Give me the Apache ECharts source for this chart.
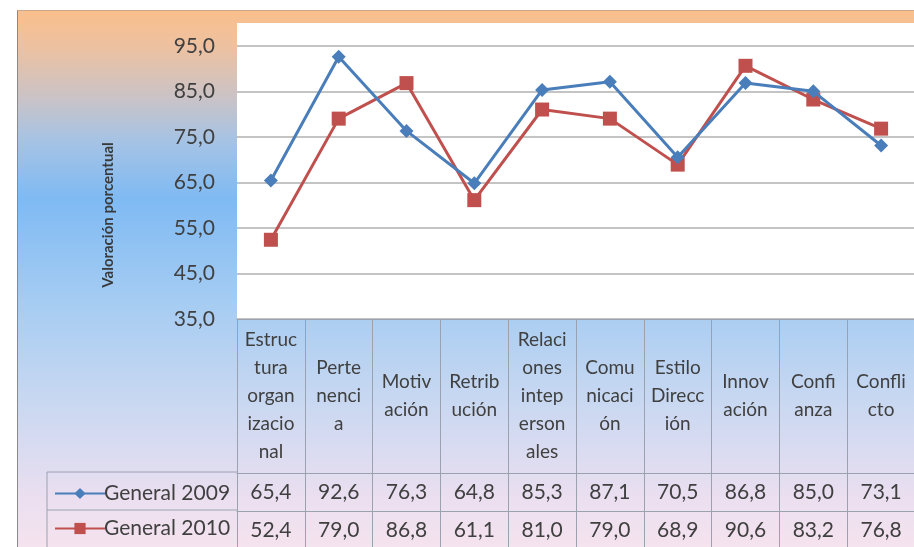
<!DOCTYPE html>
<html>
<head>
<meta charset="utf-8">
<title>Valoración porcentual</title>
<script src="https://cdn.jsdelivr.net/npm/echarts@6/dist/echarts.min.js"></script>
<style>
    html, body { margin: 0; padding: 0; background: #fff; overflow: hidden; }
    #chart { position: absolute; left: 17px; top: 10px; width: 897px; height: 537px;
             border-left: 1px solid #8a8a8a; border-top: 1px solid #c9a98c; }
</style>
</head>
<body>
<div id="chart"></div>
<script>
// categorias (ya cortadas como en la tabla original)
var categorias = [
    'Estruc\ntura\norgan\nizacio\nnal',
    'Perte\nnenci\na',
    'Motiv\nación',
    'Retrib\nución',
    'Relaci\nones\nintep\nerson\nales',
    'Comu\nnicaci\nón',
    'Estilo\nDirecc\nión',
    'Innov\nación',
    'Confi\nanza',
    'Confli\ncto'
];
var general2009 = [65.4, 92.6, 76.3, 64.8, 85.3, 87.1, 70.5, 86.8, 85.0, 73.1];
var general2010 = [52.4, 79.0, 86.8, 61.1, 81.0, 79.0, 68.9, 90.6, 83.2, 76.8];
var yMin = 35, yMax = 100, yStep = 10;

var fuente = 'Lato, "Open Sans", sans-serif';
var colorTexto = '#404040';
var colorTabla = '#9aa2b0';

// 65.4 -> "65,4"
function coma(v) {
    return v.toFixed(1).replace('.', ',');
}

// fila de valores de la tabla de datos (eje extra debajo del grafico)
function filaTabla(valores, desplazamiento) {
    return {
        type: 'category',
        data: categorias,
        position: 'bottom',
        offset: desplazamiento,
        axisLine: { show: true, lineStyle: { color: colorTabla, width: 1 } },
        axisTick: { show: false },
        splitLine: { show: false },
        axisLabel: {
            interval: 0,
            margin: 19,
            verticalAlign: 'middle',
            fontFamily: fuente,
            fontSize: 21,
            color: colorTexto,
            formatter: function (v, i) {
                return coma(valores[i]);
            }
        }
    };
}

var chart = echarts.init(document.getElementById('chart'));
var option = {
    animation: false,
    backgroundColor: new echarts.graphic.LinearGradient(0, 0, 0, 1, [
        { offset: 0, color: '#fabf8c' },
        { offset: 0.07, color: '#ecc1a2' },
        { offset: 0.16, color: '#cbc3c6' },
        { offset: 0.24, color: '#a6c3e4' },
        { offset: 0.35, color: '#7fbaf3' },
        { offset: 0.54, color: '#a5ccf2' },
        { offset: 0.73, color: '#c9d8f1' },
        { offset: 0.91, color: '#ebdff0' },
        { offset: 1, color: '#f5e3ee' }
    ]),
    grid: {
        left: 219,
        top: 12,
        right: -6,
        bottom: 229,
        show: true,
        backgroundColor: '#fff',
        borderWidth: 0
    },
    legend: {
        orient: 'vertical',
        left: 31,
        top: 467,
        itemWidth: 50,
        itemHeight: 14,
        itemGap: 14,
        textStyle: { fontFamily: fuente, fontSize: 21, color: colorTexto, padding: [0, 0, 0, -6] },
        data: ['General 2009', 'General 2010']
    },
    xAxis: [
        {
            type: 'category',
            data: categorias,
            boundaryGap: true,
            axisLine: { show: true, lineStyle: { color: colorTabla, width: 1 } },
            axisTick: { show: true, length: 229, lineStyle: { color: colorTabla, width: 1 } },
            axisLabel: {
                interval: 0,
                margin: 77,
                verticalAlign: 'middle',
                align: 'center',
                lineHeight: 28,
                fontFamily: fuente,
                fontSize: 19,
                color: colorTexto
            }
        },
        filaTabla(general2009, 154),
        filaTabla(general2010, 192)
    ],
    yAxis: {
        type: 'value',
        min: yMin,
        max: yMax,
        interval: yStep,
        axisLine: { show: false },
        axisTick: { show: false },
        axisLabel: {
            margin: 22,
            showMaxLabel: false,
            fontFamily: fuente,
            fontSize: 21,
            color: colorTexto,
            formatter: function (v) { return coma(v); }
        },
        splitLine: { show: true, showMaxLine: false, lineStyle: { color: '#c4c4c4', width: 2 } }
    },
    graphic: [
        // titulo del eje vertical
        {
            type: 'text',
            x: 90, y: 204,
            rotation: Math.PI / 2,
            style: {
                text: 'Valoración porcentual',
                fontFamily: fuente,
                fontSize: 15,
                fontWeight: 'bold',
                fill: '#3a3a3a',
                align: 'center',
                verticalAlign: 'middle'
            }
        },
        // bordes de la celda de leyenda en la tabla
        { type: 'line', shape: { x1: 29, y1: 461, x2: 219, y2: 461 }, style: { stroke: colorTabla, lineWidth: 1 } },
        { type: 'line', shape: { x1: 29, y1: 499, x2: 219, y2: 499 }, style: { stroke: colorTabla, lineWidth: 1 } },
        { type: 'line', shape: { x1: 29, y1: 461, x2: 29, y2: 540 }, style: { stroke: colorTabla, lineWidth: 1 } }
    ],
    series: [
        {
            name: 'General 2009',
            type: 'line',
            data: general2009,
            symbol: 'diamond',
            symbolSize: 14,
            lineStyle: { color: '#4a7ebb', width: 3 },
            itemStyle: { color: '#4a7ebb' },
            z: 3
        },
        {
            name: 'General 2010',
            type: 'line',
            data: general2010,
            symbol: 'rect',
            symbolSize: 14,
            lineStyle: { color: '#c0504d', width: 3 },
            itemStyle: { color: '#c0504d' },
            z: 2
        }
    ]
};
chart.setOption(option);
</script>
</body>
</html>
